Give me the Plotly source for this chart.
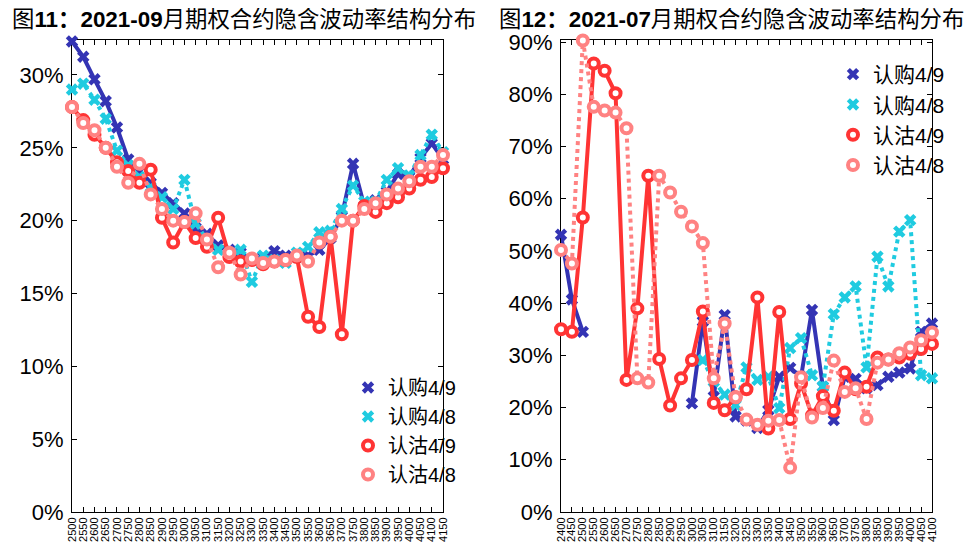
import plotly.graph_objects as go

# ---------------- data ----------------
strikes_L = list(range(2500, 4151, 50))
call49_L = [32.3, 31.25, 29.7, 28.2, 26.4, 24.2, 23.4, 22.6, 21.9, 21.2, 20.5, 19.5, 19.1, 18.3, 18.0, 17.8,
            17.3, 17.5, 17.9, 17.6, 17.5, 17.6, 18.0, 18.8, 20.3, 23.9, 21.0, 21.4, 22.0, 23.2, 23.0, 24.3, 25.3, 24.2]
call48_L = [29.0, 29.4, 28.3, 27.0, 24.8, 23.8, 23.0, 22.3, 21.6, 20.8, 22.8, 19.8, 18.7, 18.0, 17.8, 18.0,
            15.8, 17.6, 17.3, 17.1, 17.8, 18.2, 19.2, 19.3, 20.8, 22.4, 21.3, 21.3, 22.8, 23.6, 23.1, 24.5, 25.9, 24.7]
put49_L = [27.8, 26.9, 25.9, 25.0, 24.0, 23.4, 22.6, 23.5, 20.2, 18.5, 19.9, 18.8, 18.2, 20.2, 17.5, 17.2,
           17.3, 17.0, 17.2, 17.3, 17.5, 13.4, 12.7, 18.9, 12.2, 20.0, 21.0, 20.6, 21.2, 21.6, 22.2, 22.8, 23.0, 23.6]
put48_L = [27.8, 26.7, 26.2, 25.0, 23.7, 22.6, 23.9, 21.8, 20.8, 20.0, 19.9, 20.5, 18.7, 16.8, 17.8, 16.3,
           17.4, 17.1, 17.2, 17.3, 17.6, 17.2, 18.5, 18.9, 20.0, 20.0, 20.8, 21.2, 21.8, 22.2, 22.7, 23.7, 23.7, 24.5]

strikes_R = list(range(2400, 4101, 50))
N = None
call49_R = [53.1, 40.7, 34.5, N, N, N, N, N, N, N, N, N, 20.8, 36.5, 22.1, 37.7, 18.3, 17.5, 16.1, 19.5,
            25.9, 27.6, 25.9, 38.7, 24.0, 17.6, 25.9, 25.5, 23.7, 24.3, 25.9, 26.7, 27.5, 34.5, 36.1]
call48_R = [N, N, N, N, N, N, N, N, N, N, N, N, N, 29.1, 25.0, 22.5, 20.5, 27.7, 25.3, 25.9,
            19.9, 31.4, 33.3, 26.2, 24.0, 37.9, 41.1, 43.2, 27.7, 48.9, 43.2, 53.7, 55.9, 26.2, 25.6]
put49_R = [35.0, 34.5, 56.4, 85.9, 84.5, 80.2, 25.3, 39.0, 64.4, 29.3, 20.4, 25.6, 29.1, 38.4, 20.9, 19.5,
           22.0, 23.5, 41.1, 16.0, 38.3, 17.8, 24.6, 18.5, 22.2, 19.4, 26.7, 23.5, 24.0, 29.6, 29.2, 29.6,
           30.3, 31.2, 32.2]
put48_R = [50.2, 47.6, 90.3, 77.6, 76.9, 76.5, 73.5, 25.6, 24.8, 64.4, 61.2, 57.5, 54.7, 51.5, 25.6, 36.1,
           22.0, 17.7, 16.7, 17.5, 17.6, 8.5, 25.8, 18.1, 19.9, 29.0, 23.0, 23.7, 17.8, 28.6, 29.2, 30.4,
           31.5, 32.9, 34.4]

series_names = ["认购4/9", "认购4/8", "认沽4/9", "认沽4/8"]
title_L = "图<b>11：2021-09</b>月期权合约隐含波动率结构分布"
title_R = "图<b>12：2021-07</b>月期权合约隐含波动率结构分布"

# ---------------- styles ----------------
C_BLUE = "#3434b4"
C_CYAN = "#1fcbe0"
C_RED = "#ff3434"
C_PINK = "#ff8282"
FONT = "Liberation Sans, Arial, Noto Sans CJK SC, sans-serif"

styles = [
    dict(line=dict(color=C_BLUE, width=4),
         marker=dict(symbol="x", size=11, color=C_BLUE, line=dict(width=0))),
    dict(line=dict(color=C_CYAN, width=4, dash="dot"),
         marker=dict(symbol="x", size=11, color=C_CYAN, line=dict(width=0))),
    dict(line=dict(color=C_RED, width=4),
         marker=dict(symbol="circle", size=10, color="white", line=dict(color=C_RED, width=4))),
    dict(line=dict(color=C_PINK, width=4, dash="dot"),
         marker=dict(symbol="circle", size=10, color="white", line=dict(color=C_PINK, width=4))),
]

def pct(a):
    return [None if v is None else v / 100.0 for v in a]

fig = go.Figure()

for xs, sets, xa, ya, leg in [
    (strikes_L, [call49_L, call48_L, put49_L, put48_L], "x", "y", "legend"),
    (strikes_R, [call49_R, call48_R, put49_R, put48_R], "x2", "y2", "legend2"),
]:
    for name, vals, st in zip(series_names, sets, styles):
        fig.add_trace(go.Scatter(
            x=xs, y=pct(vals), mode="lines+markers", name=name,
            line=st["line"], marker=st["marker"], xaxis=xa, yaxis=ya,
            cliponaxis=False, showlegend=False, connectgaps=False))
    for name, st in zip(series_names, styles):
        fig.add_trace(go.Scatter(
            x=[None], y=[None], mode="markers", name=name,
            marker=st["marker"], xaxis=xa, yaxis=ya, legend=leg, showlegend=True))

# the page body adds an 8px offset; figure coordinates below are page coords - 8
W, H = 966, 537
bottom = (H - 504) / H
top = (H - 32) / H

common_x = dict(showline=True, linecolor="black", linewidth=1, mirror="allticks",
                ticks="inside", ticklen=5, tickcolor="black", tickangle=-90,
                tickfont=dict(family=FONT, size=11, color="black"),
                showgrid=False, zeroline=False, layer="below traces", automargin=False)
common_y = dict(showline=True, linecolor="black", linewidth=1, mirror="allticks",
                ticks="inside", ticklen=5, tickcolor="black",
                tickfont=dict(family=FONT, size=22, color="black"),
                showgrid=False, zeroline=False, tickformat=".0%", layer="below traces",
                automargin=False, ticklabelstandoff=3)

fig.update_layout(
    width=W, height=H,
    margin=dict(l=0, r=0, t=0, b=0, autoexpand=False),
    paper_bgcolor="white", plot_bgcolor="white",
    font=dict(family=FONT, color="black"),
    xaxis=dict(domain=[64 / W, 435 / W], range=[2500, 4150], tickvals=strikes_L,
               ticktext=[str(s) for s in strikes_L], anchor="y", **common_x),
    yaxis=dict(domain=[bottom, top], range=[0, 0.324], dtick=0.05, anchor="x", **common_y),
    xaxis2=dict(domain=[553 / W, 924 / W], range=[2400, 4100], tickvals=strikes_R,
                ticktext=[str(s) for s in strikes_R], anchor="y2", **common_x),
    yaxis2=dict(domain=[bottom, top], range=[0, 0.904], dtick=0.1, anchor="x2", **common_y),
    legend=dict(x=340 / W, y=(H - 360) / H, xanchor="left", yanchor="top",
                bgcolor="rgba(0,0,0,0)", font=dict(family=FONT, size=20, color="black"),
                itemwidth=30, tracegroupgap=0),
    legend2=dict(x=825 / W, y=(H - 46) / H, xanchor="left", yanchor="top",
                 bgcolor="rgba(0,0,0,0)", font=dict(family=FONT, size=21, color="black"),
                 itemwidth=30, tracegroupgap=0),
    annotations=[
        dict(text=title_L, x=2 / W, y=(H - 12) / H, xref="paper", yref="paper",
             xanchor="left", yanchor="middle", showarrow=False,
             font=dict(family=FONT, size=22.4, color="black")),
        dict(text=title_R, x=489 / W, y=(H - 12) / H, xref="paper", yref="paper",
             xanchor="left", yanchor="middle", showarrow=False,
             font=dict(family=FONT, size=22.4, color="black")),
    ],
)

fig.write_html("out.html")
